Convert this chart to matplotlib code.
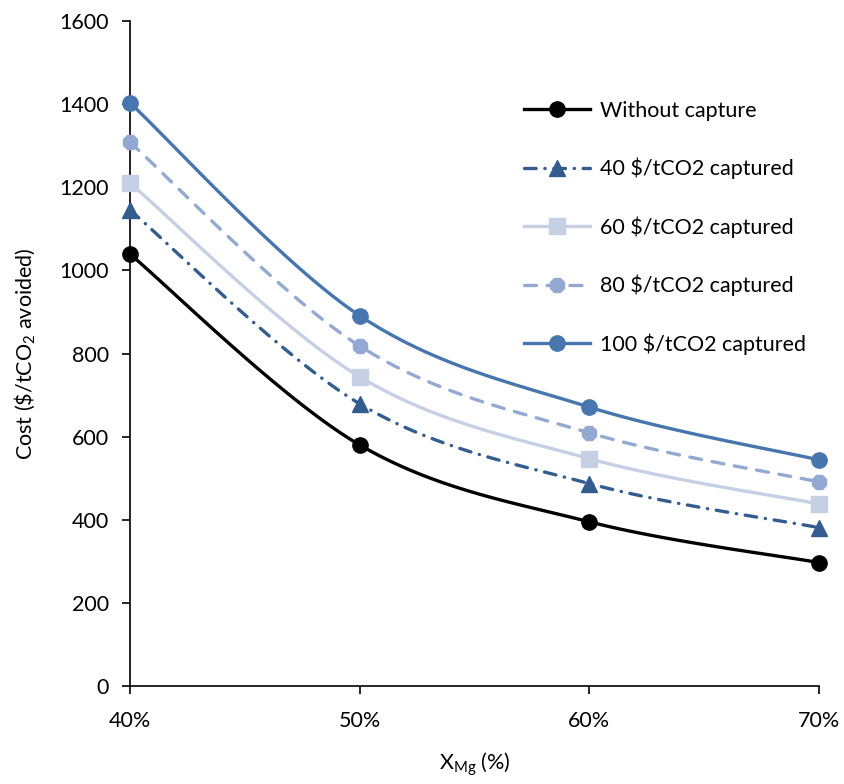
import numpy as np
import matplotlib
matplotlib.use("Agg")
import matplotlib.pyplot as plt

plt.rcParams["font.family"] = ["Lato", "DejaVu Sans"]
plt.rcParams["mathtext.fontset"] = "custom"
plt.rcParams["mathtext.rm"] = "Lato"
plt.rcParams["mathtext.it"] = "Lato"

x_mg = [0.40, 0.50, 0.60, 0.70]
x_labels = ["40%", "50%", "60%", "70%"]

without_capture = [1039, 580, 395, 297]
capture_40 = [1145, 679, 487, 381]
capture_60 = [1210, 744, 547, 438]
capture_80 = [1308, 818, 609, 491]
capture_100 = [1403, 891, 671, 544]

series_names = ["Without capture", "40 $/tCO2 captured", "60 $/tCO2 captured",
                "80 $/tCO2 captured", "100 $/tCO2 captured"]


def smooth(xs, ys, n=40):
    """Catmull-Rom style Bezier smoothing through every point."""
    xs = np.asarray(xs, float)
    ys = np.asarray(ys, float)
    px = np.concatenate([[xs[0]], xs, [xs[-1]]])
    py = np.concatenate([[ys[0]], ys, [ys[-1]]])
    out_x, out_y = [], []
    t = np.linspace(0, 1, n)
    for i in range(1, len(px) - 2):
        p0 = np.array([px[i - 1], py[i - 1]])
        p1 = np.array([px[i], py[i]])
        p2 = np.array([px[i + 1], py[i + 1]])
        p3 = np.array([px[i + 2], py[i + 2]])
        c1 = p1 + (p2 - p0) / 6.0
        c2 = p2 - (p3 - p1) / 6.0
        b = ((1 - t) ** 3)[:, None] * p1 + (3 * (1 - t) ** 2 * t)[:, None] * c1 \
            + (3 * (1 - t) * t ** 2)[:, None] * c2 + (t ** 3)[:, None] * p2
        if i > 1:
            b = b[1:]
        out_x.extend(b[:, 0])
        out_y.extend(b[:, 1])
    return np.array(out_x), np.array(out_y)


fig = plt.figure(figsize=(8.45, 7.84), dpi=100)
ax = fig.add_axes([130 / 845, 98 / 784, 689 / 845, 665 / 784])

styles = [
    dict(color="#000000", ls="-", marker="o", ms=11),
    dict(color="#335D8F", ls=(0, (3.5, 2.6, 0.1, 2.6)), marker="^", ms=11),
    dict(color="#C6D0E4", ls="-", marker="s", ms=11),
    dict(color="#93A9D1", ls=(0, (3.6, 3.2)), marker="8", ms=11),
    dict(color="#4775AD", ls="-", marker="o", ms=11),
]
all_series = [without_capture, capture_40, capture_60, capture_80, capture_100]

handles = []
for name, ys, st in zip(series_names, all_series, styles):
    sx, sy = smooth(x_mg, ys)
    ax.plot(sx, sy, color=st["color"], linestyle=st["ls"], lw=2.4,
            dash_capstyle="round", solid_capstyle="round", zorder=2)
    ax.plot(x_mg, ys, linestyle="none", marker=st["marker"], ms=st["ms"],
            color=st["color"], markeredgecolor=st["color"], zorder=3,
            clip_on=False)
    h, = ax.plot([], [], color=st["color"], linestyle=st["ls"], lw=2.4,
                 marker=st["marker"], ms=st["ms"], dash_capstyle="round",
                 label=name.replace("$", r"\$"))
    handles.append(h)

ax.set_xlim(0.40, 0.70)
ax.set_ylim(0, 1600)
ax.set_xticks(x_mg)
ax.set_xticklabels(x_labels)
ax.set_yticks(np.arange(0, 1601, 200))
ax.tick_params(axis="both", labelsize=15.5, direction="out", length=6,
               width=1.2, color="black")
ax.tick_params(axis="x", pad=12)
ax.tick_params(axis="y", pad=9)
for side in ["top", "right"]:
    ax.spines[side].set_visible(False)
for side in ["left", "bottom"]:
    ax.spines[side].set_linewidth(1.2)

ax.set_xlabel(r"X$_{\mathregular{Mg}}$ (%)", fontsize=15.5, labelpad=14)
ax.set_ylabel(r"Cost (\$/tCO$_{\mathregular{2}}$ avoided)", fontsize=15.5,
              labelpad=16)

leg = ax.legend(handles=handles, loc="upper left",
                bbox_to_anchor=(515 / 845, 692 / 784),
                bbox_transform=fig.transFigure, frameon=False, fontsize=15.5,
                handlelength=3.1, labelspacing=1.72, handletextpad=0.45,
                borderaxespad=0)

fig.savefig("out.png", dpi=100)
